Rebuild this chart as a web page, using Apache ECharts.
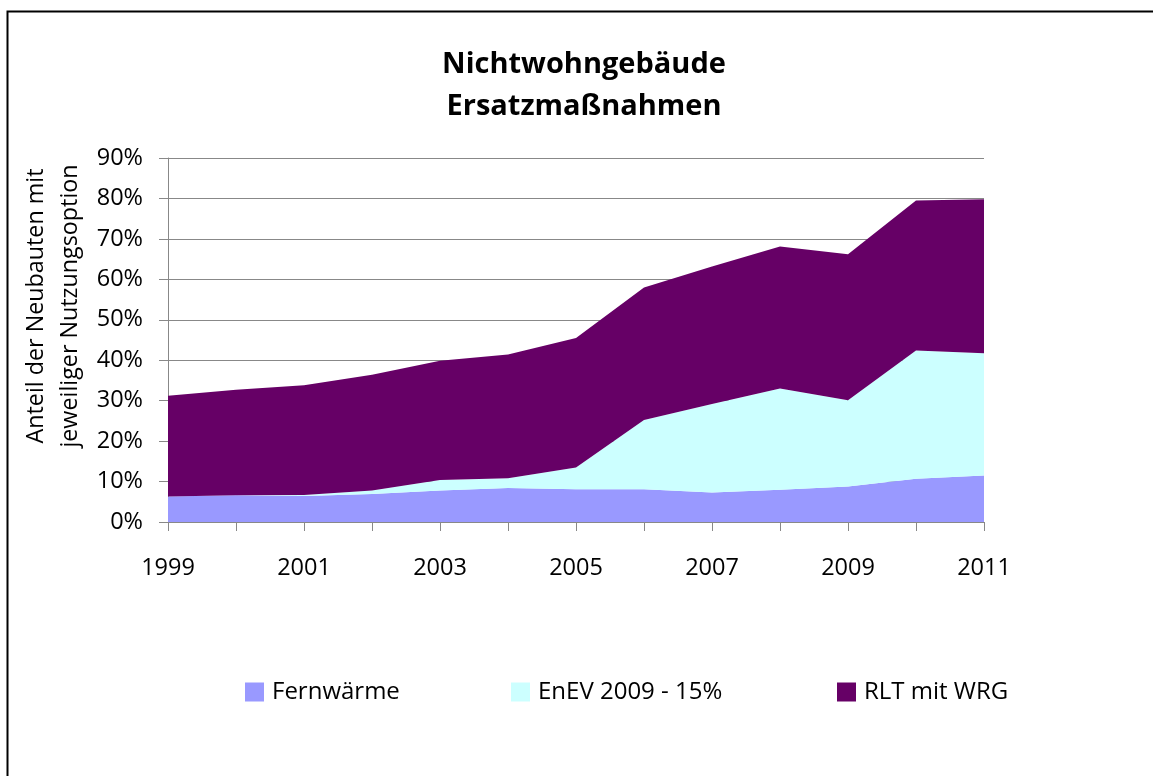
<!DOCTYPE html>
<html lang="de">

<head>
	<meta charset="UTF-8">
	<title>Nichtwohngebäude Ersatzmaßnahmen</title>
	<script src="https://cdn.jsdelivr.net/npm/echarts@6/dist/echarts.min.js"></script>
	<style>
		html, body { margin: 0; padding: 0; background: #fff; }
	</style>
</head>

<body>
	<div id="chart" style="width: 1153px;height: 776px;"></div>
</body>

<script>
	// Werte in Prozent
	const years = ['1999', '2000', '2001', '2002', '2003', '2004', '2005', '2006', '2007', '2008', '2009', '2010', '2011']
	const fernwaerme = [6.3, 6.6, 6.4, 6.9, 7.8, 8.4, 8.1, 8.1, 7.3, 8.0, 8.8, 10.7, 11.5]
	const enev = [0, 0, 0.3, 0.9, 2.6, 2.4, 5.4, 17.1, 21.9, 25.0, 21.3, 31.7, 30.2]
	const rlt = [24.9, 26.1, 27.1, 28.6, 29.5, 30.6, 32.0, 32.8, 34.0, 35.1, 36.1, 37.1, 38.1]

	const seriesNames = ['Fernwärme', 'EnEV 2009 - 15%', 'RLT mit WRG']
	const seriesColors = ['#9999ff', '#ccffff', '#660066']

	const font = '"Open Sans", sans-serif'
	const mcharts = echarts.init(document.getElementById('chart'))

	const legendLeft = [245, 511, 837]

	const option = {
		backgroundColor: '#fff',
		animation: false,
		textStyle: { fontFamily: font, color: '#000' },
		title: {
			text: 'Nichtwohngebäude\nErsatzmaßnahmen',
			left: 579,
			textAlign: 'center',
			top: 39,
			textStyle: { fontFamily: font, fontWeight: 'bold', fontSize: 29, lineHeight: 42, color: '#000' }
		},
		// ein Legendenblock pro Serie, damit die Abstände wie im Original sitzen
		legend: seriesNames.map((name, i) => ({
			data: [name],
			left: legendLeft[i],
			top: 680,
			padding: 0,
			itemWidth: 19,
			itemHeight: 19,
			icon: 'rect',
			textStyle: { fontFamily: font, fontSize: 24, color: '#000', padding: [0, 0, 0, 3] }
		})),
		grid: { left: 168, right: 169, top: 158, bottom: 254 },
		xAxis: {
			type: 'category',
			data: years,
			boundaryGap: false,
			axisLine: { lineStyle: { color: '#888' } },
			axisTick: { show: true, length: 9, interval: 0, lineStyle: { color: '#888' } },
			axisLabel: { interval: 1, margin: 34, fontSize: 23.5, fontFamily: font, color: '#000' }
		},
		yAxis: {
			type: 'value',
			min: 0,
			max: 90,
			interval: 10,
			axisLine: { show: true, lineStyle: { color: '#888' } },
			axisTick: { show: true, length: 9, lineStyle: { color: '#888' } },
			splitLine: { lineStyle: { color: '#888' } },
			axisLabel: { formatter: '{value}%', margin: 25, fontSize: 23.5, fontFamily: font, color: '#000' }
		},
		graphic: [
			{
				// Rahmen nur links und oben sichtbar, Rest liegt außerhalb des Bildes
				type: 'polyline',
				shape: { points: [[7.5, 800], [7.5, 11.5], [1160, 11.5]] },
				style: { fill: null, stroke: '#000', lineWidth: 2 },
				silent: true
			},
			{
				type: 'text',
				x: 36,
				y: 306,
				rotation: Math.PI / 2,
				style: {
					text: 'Anteil der Neubauten mit',
					fontFamily: font, fontSize: 23.3, fill: '#000',
					align: 'center', verticalAlign: 'middle'
				}
			},
			{
				type: 'text',
				x: 70,
				y: 306,
				rotation: Math.PI / 2,
				style: {
					text: 'jeweiliger Nutzungsoption',
					fontFamily: font, fontSize: 23.3, fill: '#000',
					align: 'center', verticalAlign: 'middle'
				}
			}
		],
		series: [fernwaerme, enev, rlt].map((values, i) => ({
			name: seriesNames[i],
			type: 'line',
			stack: 'total',
			data: values,
			symbol: 'none',
			lineStyle: { width: 0 },
			areaStyle: { color: seriesColors[i], opacity: 1 },
			itemStyle: { color: seriesColors[i] }
		}))
	}

	mcharts.setOption(option)
</script>

</html>
